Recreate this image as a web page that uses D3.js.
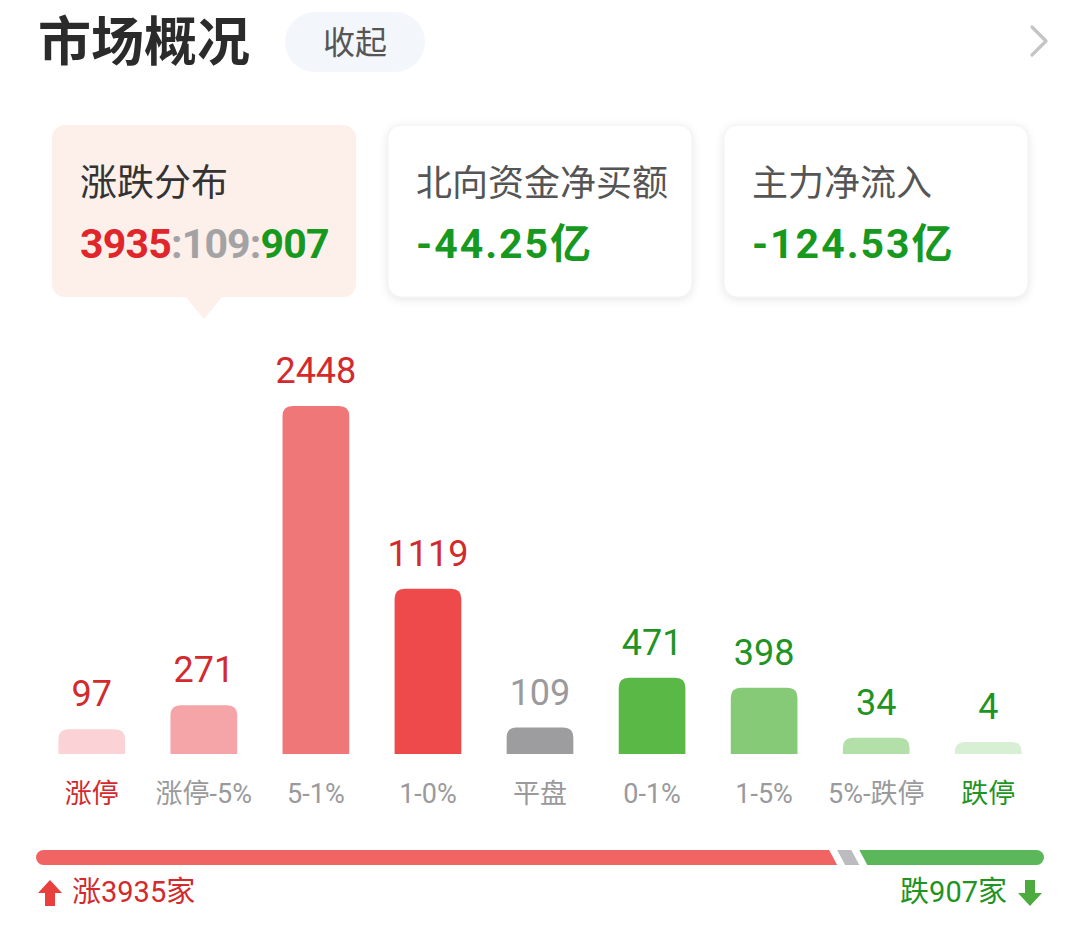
<!DOCTYPE html>
<html>
<head>
<meta charset="utf-8">
<script src="https://cdn.jsdelivr.net/npm/d3@7"></script>
<style>
  html, body { margin: 0; padding: 0; background: #fff; }
  svg { display: block; }
</style>
</head>
<body>
<svg width="1080" height="928"></svg>
<script>
// data
const categories = ["涨停", "涨停-5%", "5-1%", "1-0%", "平盘", "0-1%", "1-5%", "5%-跌停", "跌停"];
const counts = [97, 271, 2448, 1119, 109, 471, 398, 34, 4];
const barColors = ["#fbd2d5", "#f5a4a7", "#f07778", "#ee4a4c", "#9d9d9f", "#5ab946", "#86c977", "#b3e0a8", "#d7efd2"];
const kinds = ["up", "up", "up", "up", "flat", "down", "down", "down", "down"];

const breadthLabels = ["涨", "平", "跌"];
const breadthCounts = [3935, 109, 907];

const cardTitles = ["涨跌分布", "北向资金净买额", "主力净流入"];
const cardValues = [null, "-44.25亿", "-124.53亿"];

var svg = d3.select("svg"),
  width = +svg.attr("width"),
  height = +svg.attr("height");

const RED = "#e0262b", GREEN = "#17991f", GRAY = "#9a9a9c";
const numFont = "Roboto, 'Noto Sans CJK SC', sans-serif";
const cjkFont = "'Noto Sans CJK SC', sans-serif";

const defs = svg.append("defs");
const shadow = defs.append("filter").attr("id", "shadow")
  .attr("x", "-10%").attr("y", "-10%").attr("width", "120%").attr("height", "130%");
shadow.append("feDropShadow")
  .attr("dx", 0).attr("dy", 2).attr("stdDeviation", 4)
  .attr("flood-color", "#000").attr("flood-opacity", 0.10);

// header
svg.append("text")
  .attr("x", 38).attr("y", 61)
  .style("font-family", cjkFont).style("font-size", "53px").style("font-weight", 700)
  .attr("fill", "#2b2b2b")
  .text("市场概况");

svg.append("rect")
  .attr("x", 285).attr("y", 12).attr("width", 140).attr("height", 60).attr("rx", 30)
  .attr("fill", "#f3f6fa");
svg.append("text")
  .attr("x", 355).attr("y", 54).attr("text-anchor", "middle")
  .style("font-family", cjkFont).style("font-size", "32px")
  .attr("fill", "#555")
  .text("收起");

svg.append("path")
  .attr("d", "M1032,27 L1046,41 L1032,55")
  .attr("fill", "none").attr("stroke", "#c4c4c4").attr("stroke-width", 3.2)
  .attr("stroke-linejoin", "round").attr("stroke-linecap", "round");

// cards
const cardX = d3.scaleBand().domain(d3.range(3)).range([52, 1028]).paddingInner(0.095);
const cards = svg.selectAll("g.card").data(cardTitles).enter().append("g")
  .attr("class", "card")
  .attr("transform", (d, i) => `translate(${cardX(i)},125)`);

cards.append("rect")
  .attr("width", cardX.bandwidth()).attr("height", 172).attr("rx", 13)
  .attr("fill", (d, i) => i == 0 ? "#fdefe9" : "#fff")
  .attr("stroke", (d, i) => i == 0 ? "none" : "#f0f0f0")
  .attr("filter", (d, i) => i == 0 ? null : "url(#shadow)");

// pointer under the selected card
svg.append("path")
  .attr("d", `M${cardX(0) + 134},297 L${cardX(0) + 152},319 L${cardX(0) + 170},297 Z`)
  .attr("fill", "#fdefe9");

cards.append("text")
  .attr("x", 28).attr("y", 71)
  .style("font-family", cjkFont).style("font-size", (d, i) => i == 0 ? "37px" : "36px")
  .attr("fill", (d, i) => i == 0 ? "#333" : "#555")
  .text(d => d);

// value rows
cards.filter((d, i) => i > 0).append("text")
  .attr("x", 28).attr("y", 133)
  .style("font-family", numFont).style("font-size", "41px").style("font-weight", 700)
  .style("letter-spacing", "2px")
  .attr("fill", GREEN)
  .text((d, i) => cardValues[i + 1]);

const ratio = cards.filter((d, i) => i == 0).append("text")
  .attr("x", 28).attr("y", 133)
  .style("font-family", numFont).style("font-size", "41px").style("font-weight", 700)
  .style("letter-spacing", "-0.8px");
const ratioColors = [RED, "#a3a3a5", GREEN];
breadthCounts.forEach((v, i) => {
  if (i > 0) ratio.append("tspan").attr("fill", "#a3a3a5").text(":");
  ratio.append("tspan").attr("fill", ratioColors[i]).text(v);
});

// distribution bars
const baseY = 754;
const x = d3.scaleBand().domain(categories).range([36, 1044]).paddingInner(0.405).paddingOuter(0.2);
const y = d3.scaleLinear().domain([0, d3.max(counts)]).range([baseY - 11.5, 406]);

const barData = categories.map((c, i) => ({ cat: c, v: counts[i], color: barColors[i], kind: kinds[i] }));

function topRounded(x0, y0, w, h, r) {
  r = Math.min(r, h, w / 2);
  return `M${x0},${y0 + h} L${x0},${y0 + r} Q${x0},${y0} ${x0 + r},${y0} L${x0 + w - r},${y0} Q${x0 + w},${y0} ${x0 + w},${y0 + r} L${x0 + w},${y0 + h} Z`;
}

const bars = svg.append("g");
bars.selectAll("path").data(barData).enter().append("path")
  .attr("d", d => topRounded(x(d.cat), y(d.v), x.bandwidth(), baseY - y(d.v), 10))
  .attr("fill", d => d.color);

const valueColor = k => k == "up" ? "#d22a2d" : k == "down" ? "#1f9424" : "#9a9a9c";

bars.selectAll("text.val").data(barData).enter().append("text")
  .attr("class", "val")
  .attr("x", d => x(d.cat) + x.bandwidth() / 2)
  .attr("y", d => y(d.v) - 23)
  .attr("text-anchor", "middle")
  .style("font-family", numFont).style("font-size", "36px")
  .attr("fill", d => valueColor(d.kind))
  .text(d => d.v);

bars.selectAll("text.cat").data(barData).enter().append("text")
  .attr("class", "cat")
  .attr("x", d => x(d.cat) + x.bandwidth() / 2)
  .attr("y", 803)
  .attr("text-anchor", "middle")
  .style("font-family", numFont).style("font-size", "27px")
  .attr("fill", (d, i) => i == 0 ? "#d22a2d" : i == categories.length - 1 ? "#1f9424" : "#9a9a9c")
  .text(d => d.cat);

// breadth strip
const total = d3.sum(breadthCounts);
const sx = d3.scaleLinear().domain([0, total]).range([36, 1044]);
const stripY = 850, stripH = 15, slant = 4, gap = 4;

defs.append("clipPath").attr("id", "strip")
  .append("rect").attr("x", 36).attr("y", stripY).attr("width", 1008).attr("height", stripH).attr("rx", stripH / 2);

const cum = [0, breadthCounts[0], breadthCounts[0] + breadthCounts[1], total];
const stripColors = ["#f06464", "#bcbcc0", "#5cb65a"];
svg.append("g").attr("clip-path", "url(#strip)")
  .selectAll("path").data(breadthCounts).enter().append("path")
  .attr("d", (d, i) => {
    const a = i == 0 ? sx(0) - 20 : sx(cum[i]) + gap;
    const b = i == 2 ? sx(total) + 20 : sx(cum[i + 1]) - gap;
    return `M${a - slant},${stripY} L${b - slant},${stripY} L${b + slant},${stripY + stripH} L${a + slant},${stripY + stripH} Z`;
  })
  .attr("fill", (d, i) => stripColors[i]);

// footer
svg.append("path")
  .attr("d", "M50,880 L62,893 L55,893 L55,906 L45,906 L45,893 L38,893 Z")
  .attr("fill", "#e9403f");
svg.append("text")
  .attr("x", 72).attr("y", 902)
  .style("font-family", numFont).style("font-size", "29px")
  .attr("fill", "#d22a2d")
  .text(breadthLabels[0] + breadthCounts[0] + "家");

svg.append("path")
  .attr("d", "M1030,906 L1042,893 L1035,893 L1035,880 L1025,880 L1025,893 L1018,893 Z")
  .attr("fill", "#4caa3e");
svg.append("text")
  .attr("x", 1007).attr("y", 902).attr("text-anchor", "end")
  .style("font-family", numFont).style("font-size", "29px")
  .attr("fill", "#1f9424")
  .text(breadthLabels[2] + breadthCounts[2] + "家");
</script>
</body>
</html>
